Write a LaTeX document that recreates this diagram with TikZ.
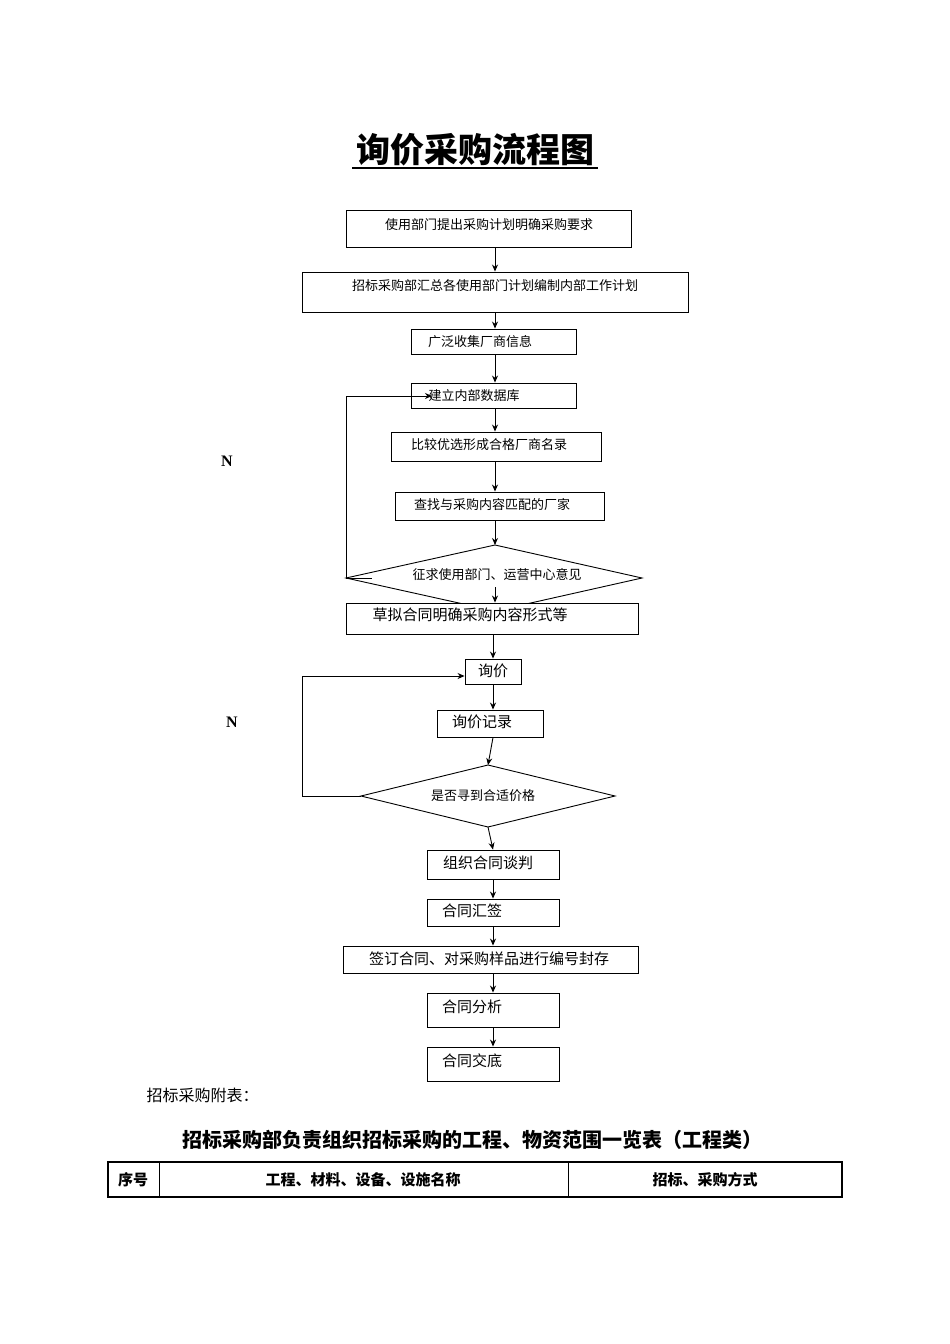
\documentclass[tikz,border=0pt]{standalone}
\usepackage{fontspec}
\setmainfont{Noto Sans CJK SC}
\newfontfamily\nfont{Liberation Serif}
\usetikzlibrary{arrows.meta}
\begin{document}
\begin{tikzpicture}[x=1pt,y=-1pt,
  bx/.style={draw,line width=0.9pt,rectangle,inner sep=0pt,font=\fontsize{13}{15}\selectfont},
  bxl/.style={bx,font=\fontsize{15}{17}\selectfont},
  ar/.style={-{Stealth[length=7pt,width=6pt]},line width=0.9pt},
  ln/.style={line width=0.9pt}]
\useasboundingbox (0,0) rectangle (950,1344);
\node (title) at (475,150) {\fontsize{34}{38}\selectfont\bfseries 询价采购流程图};
\draw[line width=1.3pt] (352,168) -- (598,168);
\newcommand\bxat[6]{\node[#1,minimum width=#4-#3,minimum height=#6-#5] (#2) at ({(#3+#4)/2},{(#5+#6)/2}) {};}
\bxat{bx}{b1}{346}{631}{210}{247}\node at (489,225) {\fontsize{13}{15}\selectfont 使用部门提出采购计划明确采购要求};
\bxat{bx}{b2}{302}{688}{272}{312}\node at (495,286) {\fontsize{13}{15}\selectfont 招标采购部汇总各使用部门计划编制内部工作计划};
\bxat{bx}{b3}{411}{576}{329}{354}\node at (480,342) {\fontsize{13}{15}\selectfont 广泛收集厂商信息};
\bxat{bx}{b4}{411}{576}{383}{408}\node at (474,396) {\fontsize{13}{15}\selectfont 建立内部数据库};
\bxat{bx}{b5}{391}{601}{432}{461}\node at (489,445) {\fontsize{13}{15}\selectfont 比较优选形成合格厂商名录};
\bxat{bx}{b6}{395}{604}{492}{520}\node at (492,505) {\fontsize{13}{15}\selectfont 查找与采购内容匹配的厂家};
\draw[ln,fill=white] (346,578) -- (495,545) -- (642,578) -- (495,611) -- cycle;
\coordinate (d1t) at (495,545); \coordinate (d1l) at (346,578);
\node at (497,575) {\fontsize{13}{15}\selectfont 征求使用部门、运营中心意见};
\draw[ln] (346,578) -- (372,578);
\bxat{bx,fill=white}{b7}{346}{638}{603}{634}\node at (470,615) {\fontsize{15}{17}\selectfont 草拟合同明确采购内容形式等};
\bxat{bx}{b8}{465}{521}{659}{684}\node at (493,671) {\fontsize{15}{17}\selectfont 询价};
\bxat{bx}{b9}{437}{543}{710}{737}\node at (482,722) {\fontsize{15}{17}\selectfont 询价记录};
\draw[ln] (361,796) -- (488,765) -- (615,796) -- (488,827) -- cycle;
\coordinate (d2t) at (488,765); \coordinate (d2b) at (488,827); \coordinate (d2l) at (361,796);
\node at (483,796) {\fontsize{13}{15}\selectfont 是否寻到合适价格};
\bxat{bx}{b10}{427}{559}{850}{879}\node at (488,863) {\fontsize{15}{17}\selectfont 组织合同谈判};
\bxat{bx}{b11}{427}{559}{899}{926}\node at (472,911) {\fontsize{15}{17}\selectfont 合同汇签};
\bxat{bx}{b12}{343}{638}{946}{973}\node at (489,959) {\fontsize{15}{17}\selectfont 签订合同、对采购样品进行编号封存};
\bxat{bx}{b13}{427}{559}{993}{1027}\node at (472,1007) {\fontsize{15}{17}\selectfont 合同分析};
\bxat{bx}{b14}{427}{559}{1047}{1081}\node at (472,1061) {\fontsize{15}{17}\selectfont 合同交底};
% arrows
\draw[ar] (b1.south -| 495,0) -- (b2.north -| 495,0);
\draw[ar] (b2.south -| 495,0) -- (b3.north -| 495,0);
\draw[ar] (b3.south -| 495,0) -- (b4.north -| 495,0);
\draw[ar] (b4.south -| 495,0) -- (b5.north -| 495,0);
\draw[ar] (b5.south -| 495,0) -- (b6.north -| 495,0);
\draw[ar] (b6.south -| 495,0) -- (d1t);
\draw[ar] (495,587) -- (b7.north -| 495,0);
\draw[ar] (b7.south -| 493,0) -- (b8.north -| 493,0);
\draw[ar] (b8.south -| 493,0) -- (b9.north -| 493,0);
\draw[ar] (b9.south -| 493,0) -- (d2t);
\draw[ar] (d2b) -- (b10.north -| 493,0);
\draw[ar] (b10.south -| 493,0) -- (b11.north -| 493,0);
\draw[ar] (b11.south -| 493,0) -- (b12.north -| 493,0);
\draw[ar] (b12.south -| 493,0) -- (b13.north -| 493,0);
\draw[ar] (b13.south -| 493,0) -- (b14.north -| 493,0);
\coordinate (l1) at (432,396);
\draw[ar] (d1l) -- (346,396) -- (l1);
\draw[ar] (d2l) -- (302,796) -- (302,676) -- (b8.west |- 0,676);
\node (n1) at (227,461) {\nfont\fontsize{16}{18}\selectfont\bfseries N};
\node (n2) at (232,722) {\nfont\fontsize{16}{18}\selectfont\bfseries N};
\node[anchor=west] (att) at (143,1095) {\fontsize{16}{18}\selectfont 招标采购附表：};
\node (tt) at (472,1140) {\fontsize{20}{24}\selectfont\bfseries 招标采购部负责组织招标采购的工程、物资范围一览表（工程类）};
\draw[line width=1.3pt] (108,1162) rectangle (842,1197);
\draw[line width=1pt] (159,1162) -- (159,1197) (568,1162) -- (568,1197);
\node (c1) at (133,1180) {\fontsize{15}{17}\selectfont\bfseries 序号};
\node (c2) at (363,1180) {\fontsize{15}{17}\selectfont\bfseries 工程、材料、设备、设施名称};
\node (c3) at (705,1180) {\fontsize{15}{17}\selectfont\bfseries 招标、采购方式};
\end{tikzpicture}
\end{document}
